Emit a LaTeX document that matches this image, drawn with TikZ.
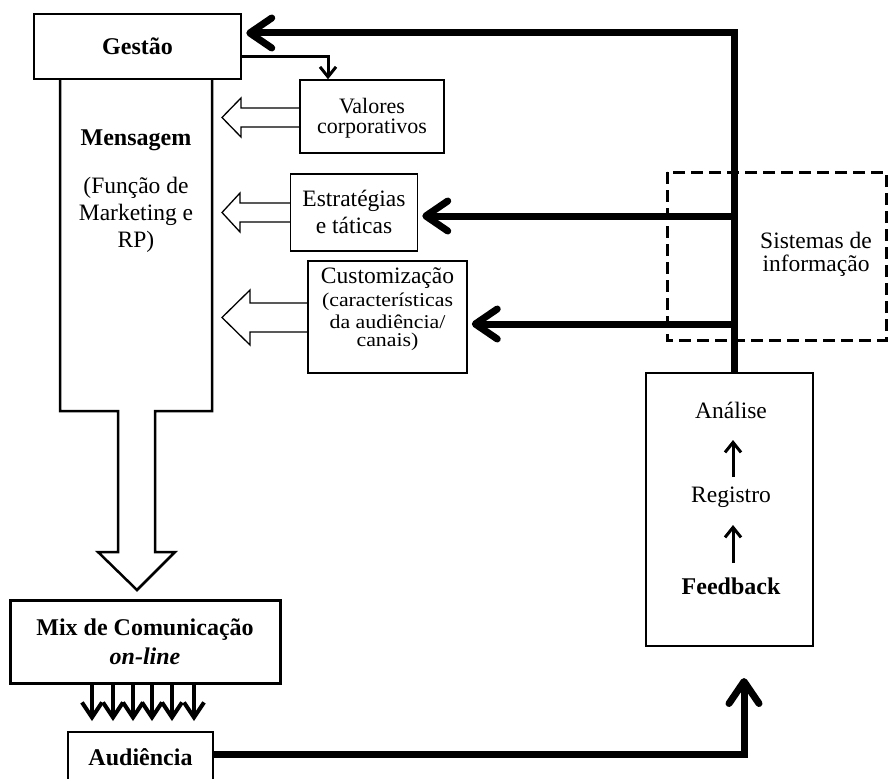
\documentclass[tikz,border=0pt]{standalone}
\usepackage{fontspec}
\setmainfont{Liberation Serif}
\newfontfamily\widefont[FakeStretch=1.12]{Liberation Serif}
\usetikzlibrary{arrows.meta}
\tikzset{
  box/.style={draw=black, line width=#1, fill=white, inner sep=0pt},
  box/.default=1.5pt,
  txt/.style={inner sep=0pt, font=\fontsize{23.5}{27}\selectfont},
  vtxt/.style={inner sep=0pt, font=\fontsize{22}{26}\selectfont},
  btxt/.style={inner sep=0pt, font=\fontsize{24}{28}\selectfont\bfseries},
  stxt/.style={inner sep=0pt, font=\widefont\fontsize{19.5}{22}\selectfont},
  fb/.style={line width=7pt, -{Straight Barb[length=22pt,width=30pt,line cap=round,line join=round]}},
  fbline/.style={line width=7pt},
  hollow/.style={draw=black, line width=1.3pt, line join=miter},
  zz/.style={line width=4pt, -{Straight Barb[length=15pt,width=20pt,line join=miter]}},
  medarr/.style={line width=3pt, -{Straight Barb[length=10pt,width=16pt]}},
  smallarr/.style={line width=3pt, -{Straight Barb[length=10pt,width=16pt]}},
}
\begin{document}
\begin{tikzpicture}[x=1pt,y=-1pt]
\useasboundingbox (0,0) rectangle (890,778);
\clip (0,0) rectangle (890,778);
\fill[white] (0,0) rectangle (890,778);

% Mensagem column + big hollow arrow
\draw[line width=2.5pt, line join=miter] (60,79) -- (60,411) -- (118,411) -- (118,552) -- (98,552) -- (137,590) -- (175,552) -- (155,552) -- (155,411) -- (212,411) -- (212,79);
\node[btxt] (mens) at (136,140) {Mensagem};
\node[txt] (m1) at (136,188) {(Função de};
\node[txt] (m2) at (136,215) {Marketing e};
\node[txt] (m3) at (136,242) {RP)};

% Gestão
\node[box=2.5pt, minimum width=207pt, minimum height=65pt] (gestao) at (137.5,46.5) {};
\node[btxt] (gestaot) at (gestao.center) {Gestão};

% Valores
\node[box, minimum width=144pt, minimum height=73pt] (valores) at (372,116.5) {};
\node[vtxt] (v1) at (372,106) {Valores};
\node[vtxt] (v2) at (372,129) {corporativos};
\draw[hollow] (valores.west |- 0,108) -- (241,108) -- (241,98) -- (222,117.5) -- (241,137) -- (241,127) -- (valores.west |- 0,127);

% Estratégias
\node[box, minimum width=127pt, minimum height=77pt] (estr) at (354,212.5) {};
\node[txt] (e1) at (354,201) {Estratégias};
\node[txt] (e2) at (354,225) {e táticas};
\draw[hollow] (estr.west |- 0,203) -- (240,203) -- (240,193) -- (222,212.5) -- (240,232) -- (240,222) -- (estr.west |- 0,222);

% Customização
\node[box, minimum width=159pt, minimum height=112pt] (cust) at (387.5,317) {};
\node[txt] (c1) at (387.5,278) {Customização};
\node[stxt] (c2) at (387.5,302) {(características};
\node[stxt] (c3) at (387.5,322) {da audiência/};
\node[stxt] (c4) at (387.5,342) {canais)};
\draw[hollow] (cust.west |- 0,303) -- (250,303) -- (250,290) -- (222,317.5) -- (250,345) -- (250,332) -- (cust.west |- 0,332);

% Gestão -> Valores
\coordinate (gv) at (328,57);
\draw[medarr] (gestao.east |- gv) -- (gv) -- (valores.north -| gv);

% Sistemas de informação
\draw[line width=3pt, dash pattern=on 12pt off 6pt] (667,172) rectangle (886,340);
\node[txt] (s1) at (816,240) {Sistemas de};
\node[txt] (s2) at (816,266) {informação};

% Análise box
\node[box=2pt, minimum width=167pt, minimum height=273pt] (anbox) at (729.5,509.5) {};
\node[txt] (ana) at (731,410) {Análise};
\node[txt] (reg) at (731,497) {Registro};
\node[btxt] (feed) at (731,586) {Feedback};
\coordinate (a1b) at (733,477); \coordinate (a1t) at (733,440);
\coordinate (a2b) at (733,563); \coordinate (a2t) at (733,525);
\draw[smallarr] (a1b) -- (a1t);
\draw[smallarr] (a2b) -- (a2t);

% Feedback lines
\coordinate (j0) at (734,33);
\coordinate (j1) at (734,216);
\coordinate (j2) at (734,324);
\coordinate (j3) at (734,373);
\draw[fbline] (j3) -- (j0);
\draw[fb] ([xshift=3.5pt]j0) -- ([xshift=4pt]j0 -| gestao.east);
\draw[fb] (j1) -- ([xshift=4pt]j1 -| estr.east);
\draw[fb] (j2) -- ([xshift=4pt]j2 -| cust.east);

% Mix de Comunicação
\node[box=3pt, minimum width=270pt, minimum height=83pt] (mix) at (145,641.5) {};
\node[btxt] (mix1) at (145,630) {Mix de Comunicação};
\node[btxt, font=\fontsize{24}{28}\selectfont\bfseries\itshape] (mix2) at (145,656) {on-line};

% Zigzag arrows
\foreach \xx in {92,113,133,152,172,194}{
  \draw[zz] (\xx,683) -- (\xx,721);
}

% Audiência
\node[box=2.5pt, minimum width=145pt, minimum height=80pt] (aud) at (140.5,772) {};
\node[btxt] (audt) at (140.5,757) {Audiência};
\coordinate (ae) at (744,754);
\draw[fb, line join=miter] (aud.east |- ae) -- (ae) -- ([yshift=-31pt]anbox.south -| ae);
\end{tikzpicture}
\end{document}
